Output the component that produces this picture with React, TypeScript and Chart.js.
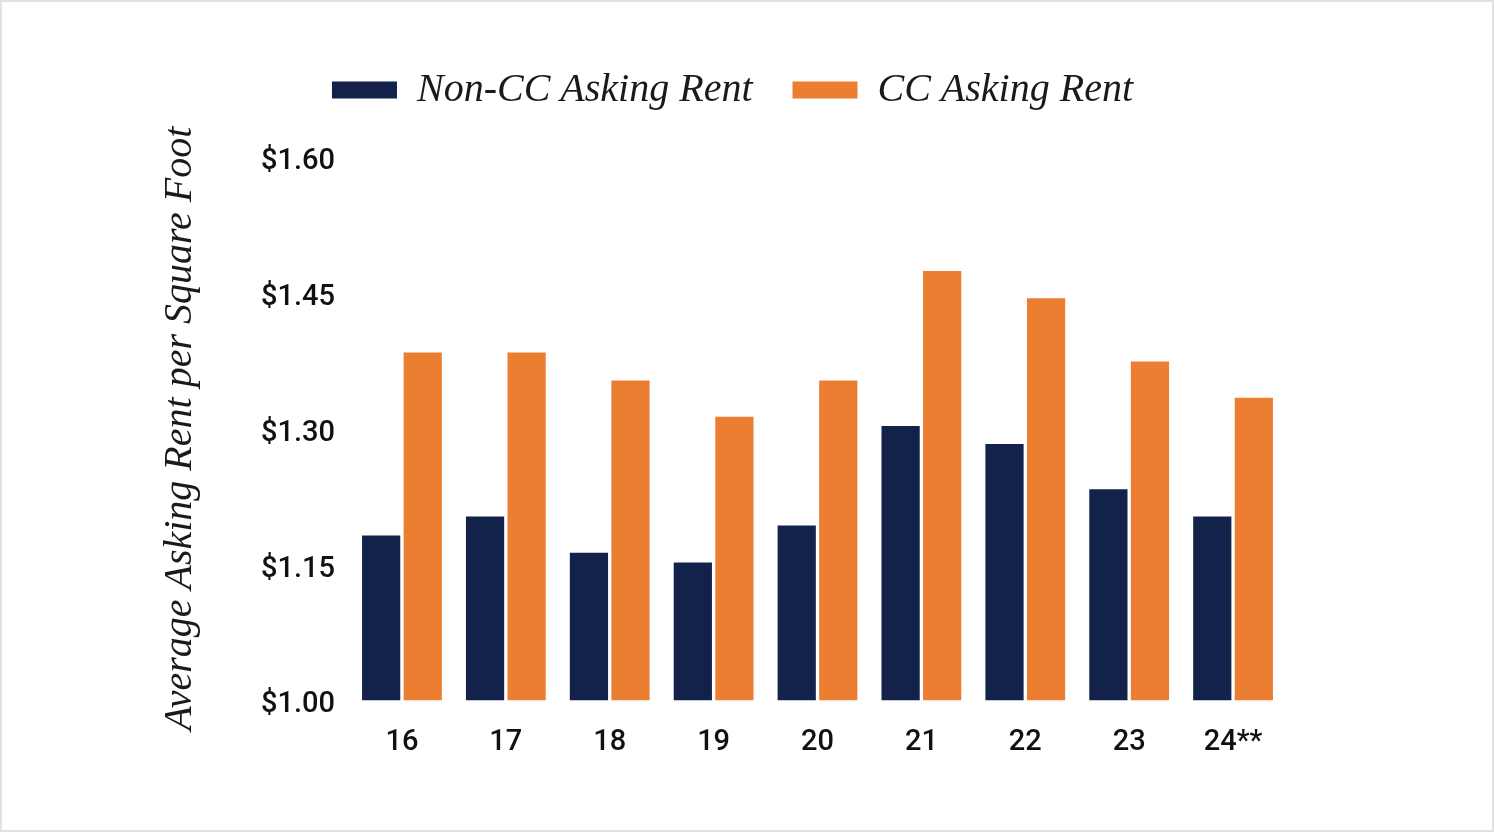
import React, { useEffect, useRef } from 'react';
import { Chart, registerables } from 'chart.js';

Chart.register(...registerables);

const categories = ['16', '17', '18', '19', '20', '21', '22', '23', '24**'];
const nonCCRent = [1.182, 1.203, 1.163, 1.152, 1.193, 1.303, 1.283, 1.233, 1.203];
const ccRent = [1.384, 1.384, 1.353, 1.313, 1.353, 1.474, 1.444, 1.374, 1.334];
const seriesNames = ['Non-CC Asking Rent', 'CC Asking Rent'];
const yMin = 1.0;
const yMax = 1.6;
const yStep = 0.15;
const yTitle = 'Average Asking Rent per Square Foot';

const NAVY = '#13224b';
const ORANGE = '#ec7e32';
const SERIF = "'Liberation Serif', 'Times New Roman', serif";
const SANS = "Roboto, 'Liberation Sans', Arial, sans-serif";

const legendMargin = {
  id: 'legendMargin',
  beforeInit(chart: any) {
    const legend = chart.legend;
    if (!legend) return;
    const origFit = legend.fit;
    legend.fit = function fit() {
      origFit.call(this);
      this.height += 37;
    };
  },
};

export default function App() {
  const canvasRef = useRef<HTMLCanvasElement | null>(null);

  useEffect(() => {
    const canvas = canvasRef.current;
    if (!canvas) return;
    const chart = new Chart(canvas, {
      type: 'bar',
      data: {
        labels: categories,
        datasets: [
          {
            label: seriesNames[0],
            data: nonCCRent,
            backgroundColor: NAVY,
            borderWidth: 0,
            yAxisID: 'y',
          },
          {
            label: seriesNames[1],
            data: ccRent,
            backgroundColor: ORANGE,
            borderWidth: 0,
            yAxisID: 'y',
          },
        ],
      },
      plugins: [legendMargin],
      options: {
        responsive: false,
        animation: false,
        devicePixelRatio: 1,
        layout: { padding: { left: 150, right: 179, top: 30, bottom: 47 } },
        datasets: {
          bar: { categoryPercentage: 0.8, barPercentage: 0.92 },
        },
        plugins: {
          tooltip: { enabled: false },
          legend: {
            position: 'top',
            labels: {
              boxWidth: 65,
              boxHeight: 17,
              padding: 40,
              color: '#1a1a1a',
              font: { family: SERIF, size: 40, style: 'italic' },
            },
          },
          title: { display: false },
        },
        scales: {
          x: {
            grid: { display: false, drawTicks: false },
            border: { display: false },
            ticks: {
              color: '#111',
              padding: 25,
              font: { family: SANS, size: 29, weight: '500' },
            },
          },
          y: {
            position: 'left',
            min: yMin,
            max: yMax,
            grid: { display: false, drawTicks: false },
            border: { display: false },
            ticks: {
              stepSize: yStep,
              padding: 15,
              labelOffset: 5,
              color: '#111',
              font: { family: SANS, size: 29, weight: '500' },
              callback: (v: any) => '$' + Number(v).toFixed(2),
            },
            title: {
              display: true,
              text: yTitle,
              color: '#1a1a1a',
              padding: { top: 6, bottom: 0 },
              font: { family: SERIF, size: 40, style: 'italic' },
            },
            afterFit: (s: any) => {
              s.width = 200;
            },
          },
          y2: {
            position: 'right',
            display: true,
            grid: { display: false, drawTicks: false },
            border: { display: false },
            ticks: { display: false },
            afterFit: (s: any) => {
              s.width = 30;
            },
          },
        },
      },
    } as any);
    return () => chart.destroy();
  }, []);

  return (
    <div style={{ position: 'fixed', left: 0, top: 0, width: 1494, height: 832, background: '#fff' }}>
      <canvas ref={canvasRef} width={1494} height={832} style={{ position: 'absolute', left: 0, top: 0 }} />
      <div
        style={{
          position: 'absolute',
          left: 0,
          top: 0,
          width: 1494,
          height: 832,
          boxSizing: 'border-box',
          border: '2px solid #e2e2e2',
          pointerEvents: 'none',
        }}
      />
    </div>
  );
}
